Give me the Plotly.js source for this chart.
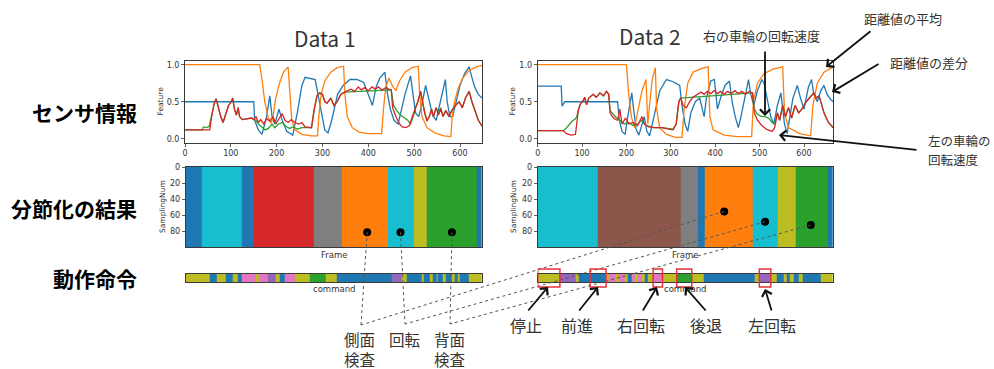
<!DOCTYPE html>
<html><head><meta charset="utf-8">
<script src="https://cdn.plot.ly/plotly-3.0.1.min.js"></script>
<style>html,body{margin:0;padding:0;background:#fff}#chart{width:994px;height:369px}</style>
</head><body><div id="chart"></div>
<script>
// ---------------- DATA ----------------
// sensor features, Data 1: [frame, value]
const d1Blue = [[0,0.5],[150,0.5],[152,0.25],[160,0.12],[168,0.06],[178,0.3],[185,0.58],[190,0.3],[196,0.2],[205,0.4],[212,0.25],[222,0.1],[235,0.05],[245,0.35],[255,0.72],[262,0.83],[284,0.8],[290,0.6],[298,0.3],[305,0.12],[312,0.08],[320,0.25],[333,0.6],[345,0.72],[360,0.8],[375,0.8],[390,0.76],[400,0.6],[409,0.45],[417,0.7],[425,0.82],[436,0.9],[442,0.6],[448,0.4],[456,0.25],[465,0.2],[473,0.4],[480,0.6],[492,0.85],[497,0.6],[503,0.35],[510,0.3],[518,0.5],[525,0.72],[532,0.55],[540,0.32],[548,0.25],[555,0.45],[563,0.7],[568,0.8],[572,0.5],[578,0.3],[584,0.3],[592,0.5],[600,0.72],[610,0.88],[620,0.97],[625,0.85],[632,0.7],[640,0.6],[648,0.55]];
const d1Orange = [[0,1],[163,1],[168,0.8],[174,0.5],[181,0.3],[188,0.21],[192,0.3],[198,0.55],[206,0.75],[215,0.9],[225,0.97],[229,0.6],[233,0.25],[240,0.12],[255,0.06],[275,0.04],[289,0.04],[292,0.3],[297,0.6],[305,0.78],[318,0.9],[332,0.96],[346,0.98],[349,0.6],[354,0.3],[365,0.15],[380,0.09],[400,0.07],[429,0.07],[433,0.4],[438,0.7],[445,0.82],[452,0.72],[460,0.65],[468,0.78],[480,0.9],[495,0.96],[509,0.98],[512,0.6],[517,0.3],[528,0.15],[545,0.08],[565,0.04],[580,0.03],[583,0.3],[588,0.5],[596,0.68],[606,0.82],[620,0.92],[635,0.97],[648,0.99]];
const d1Green = [[0,0.12],[38,0.12],[40,0.16],[47,0.15],[53,0.17],[58,0.3],[64,0.48],[68,0.54],[73,0.4],[78,0.3],[83,0.22],[88,0.32],[95,0.45],[101,0.5],[104,0.55],[108,0.4],[112,0.32],[116,0.42],[119,0.3],[125,0.26],[135,0.27],[145,0.28],[150,0.26],[155,0.25],[160,0.2],[168,0.15],[175,0.12],[182,0.14],[190,0.2],[196,0.15],[204,0.2],[212,0.22],[220,0.17],[228,0.14],[236,0.16],[245,0.13],[255,0.15],[262,0.15],[270,0.15],[276,0.15],[282,0.4],[288,0.58],[294,0.62],[300,0.6],[305,0.5],[310,0.48],[318,0.55],[325,0.45],[332,0.5],[340,0.6],[348,0.63],[450,0.66],[455,0.45],[462,0.38],[470,0.32],[478,0.28],[486,0.25],[492,0.2],[498,0.3],[503,0.42],[508,0.5],[514,0.64],[518,0.5],[523,0.35],[528,0.24],[533,0.3],[538,0.4],[542,0.3],[548,0.42],[553,0.35],[558,0.42],[563,0.3],[569,0.38],[576,0.3],[582,0.38],[590,0.45],[598,0.5],[605,0.42],[612,0.55],[620,0.64],[626,0.5],[632,0.38],[640,0.25],[648,0.17]];
const d1Red = [[0,0.12],[54,0.12],[58,0.3],[64,0.48],[68,0.54],[73,0.4],[78,0.3],[83,0.22],[88,0.32],[95,0.45],[101,0.5],[104,0.55],[108,0.4],[112,0.32],[116,0.42],[119,0.3],[125,0.26],[135,0.27],[145,0.28],[150,0.26],[155,0.3],[160,0.22],[165,0.26],[172,0.2],[178,0.27],[185,0.24],[192,0.3],[198,0.2],[205,0.28],[212,0.34],[218,0.25],[225,0.22],[232,0.26],[240,0.22],[248,0.2],[255,0.22],[262,0.16],[270,0.15],[276,0.15],[282,0.4],[288,0.58],[294,0.62],[300,0.6],[305,0.5],[310,0.48],[318,0.55],[325,0.45],[332,0.5],[340,0.6],[348,0.63],[355,0.65],[362,0.67],[370,0.64],[378,0.7],[385,0.66],[392,0.69],[400,0.65],[408,0.7],[415,0.67],[422,0.7],[430,0.66],[438,0.69],[445,0.67],[450,0.66],[453,0.42],[460,0.3],[468,0.2],[474,0.16],[482,0.15],[490,0.18],[496,0.3],[503,0.42],[508,0.5],[514,0.64],[518,0.5],[523,0.35],[528,0.24],[533,0.3],[538,0.4],[542,0.3],[548,0.42],[553,0.32],[558,0.4],[563,0.3],[569,0.38],[576,0.3],[582,0.38],[590,0.45],[598,0.5],[605,0.42],[612,0.55],[620,0.64],[626,0.5],[632,0.38],[640,0.25],[648,0.17]];

// sensor features, Data 2
const d2Blue = [[0,0.71],[53,0.71],[55,0.44],[58,0.48],[61,0.5],[180,0.5],[184,0.25],[190,0.1],[197,0.06],[203,0.3],[212,0.62],[216,0.4],[222,0.12],[228,0.05],[235,0.2],[240,0.3],[246,0.1],[252,0.04],[262,0.3],[275,0.65],[290,0.8],[305,0.77],[320,0.72],[325,0.45],[332,0.2],[338,0.1],[345,0.35],[355,0.5],[365,0.55],[375,0.3],[380,0.55],[390,0.78],[398,0.8],[405,0.4],[412,0.55],[422,0.72],[432,0.78],[438,0.5],[445,0.3],[452,0.15],[458,0.3],[466,0.55],[475,0.8],[480,0.6],[487,0.45],[495,0.65],[505,0.8],[510,0.75],[518,0.5],[525,0.3],[532,0.2],[540,0.45],[548,0.62],[556,0.2],[562,0.07],[568,0.3],[575,0.55],[585,0.72],[592,0.55],[600,0.4],[610,0.7],[617,0.8],[622,0.6],[630,0.5],[638,0.65],[645,0.72],[652,0.6],[660,0.53],[666,0.5]];
const d2Orange = [[0,1],[200,1],[205,0.6],[211,0.3],[218,0.15],[225,0.35],[235,0.65],[244,0.8],[248,0.2],[252,0.45],[258,0.8],[265,0.96],[268,0.4],[275,0.15],[290,0.06],[310,0.02],[325,0.02],[330,0.4],[338,0.75],[350,0.9],[370,0.95],[384,0.97],[388,0.3],[395,0.12],[420,0.05],[450,0.03],[482,0.03],[486,0.5],[495,0.75],[510,0.88],[530,0.94],[552,0.97],[556,0.35],[565,0.15],[590,0.07],[615,0.04],[620,0.45],[630,0.75],[645,0.9],[666,0.97]];
const d2Green = [[0,0.11],[58,0.11],[65,0.15],[72,0.2],[78,0.24],[85,0.27],[88,0.3],[92,0.4],[97,0.48],[103,0.52],[106,0.56],[110,0.46],[115,0.55],[125,0.6],[132,0.56],[140,0.62],[148,0.58],[155,0.64],[160,0.6],[163,0.38],[170,0.33],[178,0.28],[185,0.25],[195,0.2],[205,0.22],[215,0.18],[225,0.2],[235,0.25],[245,0.18],[260,0.15],[280,0.15],[295,0.14],[305,0.13],[312,0.2],[318,0.5],[322,0.55],[484,0.62],[488,0.4],[495,0.33],[505,0.3],[512,0.3],[520,0.28],[528,0.22],[534,0.2],[540,0.35],[545,0.25],[552,0.45],[558,0.3],[565,0.42],[572,0.28],[580,0.45],[588,0.35],[595,0.4],[605,0.5],[615,0.58],[622,0.62],[628,0.55],[634,0.58],[645,0.35],[655,0.22],[666,0.15]];
const d2Red = [[0,0.11],[58,0.11],[65,0.07],[75,0.05],[85,0.06],[88,0.2],[92,0.4],[97,0.48],[103,0.52],[106,0.56],[110,0.46],[115,0.55],[125,0.6],[132,0.56],[140,0.62],[148,0.58],[155,0.64],[160,0.6],[163,0.35],[168,0.3],[175,0.26],[180,0.25],[185,0.4],[190,0.2],[198,0.28],[205,0.2],[215,0.22],[225,0.18],[235,0.3],[240,0.2],[250,0.16],[265,0.15],[280,0.15],[295,0.13],[305,0.12],[312,0.2],[318,0.5],[322,0.55],[328,0.45],[335,0.42],[342,0.5],[350,0.56],[360,0.6],[368,0.63],[375,0.6],[382,0.64],[390,0.61],[398,0.65],[405,0.61],[412,0.64],[420,0.6],[428,0.64],[436,0.61],[444,0.65],[452,0.61],[460,0.64],[468,0.6],[476,0.64],[484,0.62],[488,0.35],[495,0.25],[505,0.18],[515,0.13],[528,0.1],[534,0.15],[540,0.35],[545,0.25],[552,0.45],[558,0.3],[565,0.42],[572,0.28],[580,0.45],[588,0.35],[595,0.4],[605,0.5],[615,0.58],[622,0.62],[628,0.55],[634,0.58],[645,0.35],[655,0.22],[666,0.15]];

// segmentation result (frame edges, tab10 class index)
const seg1Edges = [0,35,121,146,277,337,436,493,521,628,640];
const seg1Class = [0,9,0,3,7,1,9,8,2,0];
const seg2Edges = [0,135,321,361,376,485,541,580,654,665];
const seg2Class = [9,5,7,0,1,9,8,2,0];

// motion commands (frame edges, command code)
const cmd1Edges = [0,51,67,87,101,111.5,121,152,157,178,195,202,214,236,268,303,327,444,466,477,509,514,527,533,541.5,545,556,561,574,580,588,592,612,640];
const cmd1Codes = ['S','F','S','F','S','F','R','S','R','L','S','F','R','S','B','S','F','L','S','F','S','F','S','F','S','F','S','F','S','F','S','F','S'];
const cmd2Edges = [0,49,86.6,92.6,152.9,160.4,175.5,183,195.8,203.3,210.9,218.4,225.9,233.5,241,248.5,259.8,280.9,312.5,346.4,372.8,489.5,499.3,524.9,538.5,553.5,559.6,568.6,576.1,587.4,597.2,636.4,665];
const cmd2Codes = ['S','L','S','F','S','R','S','R','S','F','R','S','R','S','F','S','R','S','B','S','F','S','L','S','F','S','F','S','F','S','F','S'];
const cmdClass = {F:0, B:2, L:4, R:6, S:8};

// highlighted points on segmentation maps [frame, samplingNum]
const d1Dots = [[392,81],[464,81],[575,81]];
const d2Dots = [[420,55],[512,68],[615,72]];
// highlighted command spans in Data 2 [startFrame, endFrame]
const cmdHighlights = [[0,50],[118,154],[260,281],[313,347],[499,525]];

// text
const rowLabels = ['センサ情報','分節化の結果','動作命令'];
const panelTitles = ['Data 1','Data 2'];
const segLabels = [['側面','検査'],['回転'],['背面','検査']];
const cmdLabels = ['停止','前進','右回転','後退','左回転'];
const featLabels = ['右の車輪の回転速度','距離値の平均','距離値の差分',['左の車輪の','回転速度']];

// ---------------- LAYOUT / DRAW ----------------
const W = 994, H = 369;
const px = v => v / W, py = v => 1 - v / H;
const JP = '"Noto Sans CJK JP","Noto Sans",sans-serif';
const MPL = '"DejaVu Sans",sans-serif';
const tab10 = ['#1f77b4','#ff7f0e','#2ca02c','#d62728','#9467bd','#8c564b','#e377c2','#7f7f7f','#bcbd22','#17becf'];
const cs = [];
tab10.forEach((c,i)=>{cs.push([i/10,c]); cs.push([(i+1)/10,c]);});

const box = {
  l1:{x:[185,482],y:[61,142.5],r:[0,648]}, l2:{x:[537.7,833.3],y:[61,142.5],r:[0,666]},
  h1:{x:[185.7,482],y:[167,247],r:[0,640]}, h2:{x:[537.7,833],y:[167,247],r:[0,665]},
  c1:{x:[185.7,482],y:[273.5,282],r:[0,640]}, c2:{x:[537.7,833],y:[273.5,282],r:[0,665]}
};
const hY = [-0.5, 99.5];

function line(pts,color,xa,ya){
  return {type:'scatter',mode:'lines',x:pts.map(p=>p[0]),y:pts.map(p=>p[1]),xaxis:xa,yaxis:ya,
    line:{color:color,width:1.3},hoverinfo:'skip',showlegend:false};
}
function heat(edges,cls,xa,ya,yEdges){
  return {type:'heatmap',x:edges,y:yEdges,z:[cls],xaxis:xa,yaxis:ya,colorscale:cs,zmin:-0.5,zmax:9.5,
    showscale:false,hoverinfo:'skip'};
}
function dots(pts,xa,ya){
  return {type:'scatter',mode:'markers',x:pts.map(p=>p[0]),y:pts.map(p=>p[1]),xaxis:xa,yaxis:ya,
    marker:{color:'#000',size:8},hoverinfo:'skip',showlegend:false};
}

const traces = [
  line(d1Blue,tab10[0],'x','y'), line(d1Orange,tab10[1],'x','y'), line(d1Green,tab10[2],'x','y'), line(d1Red,tab10[3],'x','y'),
  line(d2Blue,tab10[0],'x2','y2'), line(d2Orange,tab10[1],'x2','y2'), line(d2Green,tab10[2],'x2','y2'), line(d2Red,tab10[3],'x2','y2'),
  heat(seg1Edges,seg1Class,'x3','y3',hY), heat(seg2Edges,seg2Class,'x4','y4',hY),
  heat(cmd1Edges,cmd1Codes.map(c=>cmdClass[c]),'x5','y5',[0,1]),
  heat(cmd2Edges,cmd2Codes.map(c=>cmdClass[c]),'x6','y6',[0,1]),
  dots(d1Dots,'x3','y3'), dots(d2Dots,'x4','y4')
];

function ax(extra){
  return Object.assign({showline:true,mirror:true,linecolor:'#3a3a3a',linewidth:1,showgrid:false,zeroline:false,
    ticks:'outside',ticklen:3,tickwidth:0.8,tickcolor:'#3a3a3a',tickfont:{family:MPL,size:8,color:'#333'},fixedrange:true},extra);
}
const layout = {
  width:W,height:H,margin:{l:0,r:0,t:0,b:0},paper_bgcolor:'#fff',plot_bgcolor:'#fff',showlegend:false,
  font:{family:JP},
  xaxis: ax({domain:[px(box.l1.x[0]),px(box.l1.x[1])],range:box.l1.r,anchor:'y',tickvals:[0,100,200,300,400,500,600]}),
  yaxis: ax({domain:[py(box.l1.y[1]),py(box.l1.y[0])],range:[-0.05,1.05],anchor:'x',tickvals:[0,0.5,1],ticktext:['0.0','0.5','1.0']}),
  xaxis2: ax({domain:[px(box.l2.x[0]),px(box.l2.x[1])],range:box.l2.r,anchor:'y2',tickvals:[0,100,200,300,400,500,600]}),
  yaxis2: ax({domain:[py(box.l2.y[1]),py(box.l2.y[0])],range:[-0.05,1.05],anchor:'x2',tickvals:[0,0.5,1],ticktext:['0.0','0.5','1.0']}),
  xaxis3: ax({domain:[px(box.h1.x[0]),px(box.h1.x[1])],range:box.h1.r,anchor:'y3',ticks:'',showticklabels:false}),
  yaxis3: ax({domain:[py(box.h1.y[1]),py(box.h1.y[0])],range:[99.5,-0.5],anchor:'x3',tickvals:[0,20,40,60,80]}),
  xaxis4: ax({domain:[px(box.h2.x[0]),px(box.h2.x[1])],range:box.h2.r,anchor:'y4',ticks:'',showticklabels:false}),
  yaxis4: ax({domain:[py(box.h2.y[1]),py(box.h2.y[0])],range:[99.5,-0.5],anchor:'x4',tickvals:[0,20,40,60,80]}),
  xaxis5: ax({domain:[px(box.c1.x[0]),px(box.c1.x[1])],range:box.c1.r,anchor:'y5',ticks:'',showticklabels:false}),
  yaxis5: ax({domain:[py(box.c1.y[1]),py(box.c1.y[0])],range:[0,1],anchor:'x5',ticks:'',showticklabels:false}),
  xaxis6: ax({domain:[px(box.c2.x[0]),px(box.c2.x[1])],range:box.c2.r,anchor:'y6',ticks:'',showticklabels:false}),
  yaxis6: ax({domain:[py(box.c2.y[1]),py(box.c2.y[0])],range:[0,1],anchor:'x6',ticks:'',showticklabels:false}),
  annotations:[], shapes:[]
};

function txt(x,y,text,size,o){
  return Object.assign({xref:'paper',yref:'paper',x:px(x),y:py(y),text:text,showarrow:false,borderpad:0,
    font:{family:JP,size:size,color:'#333'},xanchor:'center',yanchor:'middle'},o||{});
}
function arrow(hx,hy,tx,ty){
  return {xref:'paper',yref:'paper',x:px(hx),y:py(hy),ax:tx-hx,ay:ty-hy,axref:'pixel',ayref:'pixel',text:'',
    showarrow:true,arrowhead:4,arrowsize:1.1,arrowwidth:1.8,arrowcolor:'#111'};
}
const A = layout.annotations;
// row labels
[112,208,278].forEach((y,i)=>A.push(txt(138,y,'<b>'+rowLabels[i]+'</b>',21,{xanchor:'right',font:{family:JP,size:21,color:'#000'}})));
// panel titles
A.push(txt(325,38,panelTitles[0],21)); A.push(txt(650,36,panelTitles[1],21));
// axis titles
const mplT = (x,y,t,rot)=>txt(x,y,t,8,{textangle:rot||0,font:{family:MPL,size:rot?7.5:8.5,color:'#333'}});
A.push(mplT(160,101.5,'Feature',-90)); A.push(mplT(512,101.5,'Feature',-90));
A.push(mplT(162,207,'SamplingNum',-90)); A.push(mplT(513,207,'SamplingNum',-90));
A.push(mplT(334,254.5,'Frame')); A.push(mplT(685,254.5,'Frame'));
A.push(mplT(334,289,'command')); A.push(mplT(685,289,'command'));
// feature annotations
A.push(txt(761,36,featLabels[0],13)); A.push(arrow(765,116,765,50));
A.push(txt(903,19,featLabels[1],13)); A.push(arrow(826,67,872,30));
A.push(txt(929,62,featLabels[2],13)); A.push(arrow(832,92,880,63));
A.push(txt(927,140,featLabels[3][0],12.5,{xanchor:'left'}));
A.push(txt(927,159,featLabels[3][1],12.5,{xanchor:'left'}));
A.push(arrow(779,135,918,150));
// segment labels (two lines each where needed)
const segLabelX = [359,404,449];
segLabels.forEach((ls,i)=>ls.forEach((t,j)=>A.push(txt(segLabelX[i],338.5+j*20.5,t,15.5))));
// command labels + arrows
const cmdLabelX = [526,577,641,706,772];
cmdLabels.forEach((t,i)=>A.push(txt(cmdLabelX[i],325,t,16)));
[[548,287,527,312],[598,287,578,312],[657,287,642,312],[685,287,707,312],[765,289,772,312]].forEach(a=>A.push(arrow(a[0],a[1],a[2],a[3])));

// dotted connectors from dots to segment labels (computed from data coordinates)
function toPx(b,fx,fy){
  const X = b.x[0] + (fx-b.r[0])/(b.r[1]-b.r[0])*(b.x[1]-b.x[0]);
  const Y = b.y[0] + (fy-hY[0])/(hY[1]-hY[0])*(b.y[1]-b.y[0]);
  return [X,Y];
}
const labelAnchors = [[361,325],[405,324],[450,324]];
[[d1Dots,box.h1],[d2Dots,box.h2]].forEach(([pts,b])=>{
  pts.forEach((p,i)=>{
    const q = toPx(b,p[0],p[1]);
    layout.shapes.push({type:'line',xref:'paper',yref:'paper',x0:px(q[0]),y0:py(q[1]),x1:px(labelAnchors[i][0]),y1:py(labelAnchors[i][1]),
      line:{color:'#555',width:1,dash:'dot'}});
  });
});
// red highlight boxes on Data 2 commands
cmdHighlights.forEach(h=>layout.shapes.push({type:'rect',xref:'x6',yref:'paper',x0:h[0],x1:h[1],y0:py(287),y1:py(269),
  line:{color:'#e8313a',width:1.5},fillcolor:'rgba(0,0,0,0)'}));

Plotly.newPlot('chart',traces,layout,{staticPlot:true,displayModeBar:false});
</script></body></html>
